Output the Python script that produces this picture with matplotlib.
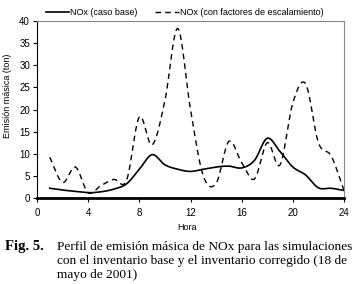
import numpy as np
import matplotlib
matplotlib.use("Agg")
from matplotlib import pyplot as plt

hours = [1, 2, 3, 4, 5, 6, 7, 8, 9, 10, 11, 12, 13, 14, 15, 16, 17, 18, 19, 20, 21, 22, 23, 24]
nox_base = [2.2, 1.8, 1.5, 1.2, 1.4, 2.0, 3.2, 6.5, 9.8, 7.5, 6.5, 6.0, 6.5, 7.0, 7.2, 6.8, 8.5, 13.5, 10.5, 7.0, 5.2, 2.3, 2.2, 1.7]
nox_scaled = [9.2, 3.5, 7.0, 1.2, 2.8, 4.2, 4.0, 18.3, 12.0, 22.0, 38.3, 20.0, 5.0, 3.3, 12.8, 8.0, 4.3, 12.5, 7.5, 21.5, 25.8, 12.5, 9.5, 1.7]
labels = ["NOx (caso base)", "NOx (con factores de escalamiento)"]
xticks = [0, 4, 8, 12, 16, 20, 24]
yticks = [0, 5, 10, 15, 20, 25, 30, 35, 40]
caption = ["Perfil de emisión másica de NOx para las simulaciones",
           "con el inventario base y el inventario corregido (18 de",
           "mayo de 2001)"]


def smooth(x, y, n=20):
    # catmull-rom like Excel's smoothed line
    x = np.asarray(x, float)
    y = np.asarray(y, float)
    px = np.concatenate([[2 * x[0] - x[1]], x, [2 * x[-1] - x[-2]]])
    py = np.concatenate([[2 * y[0] - y[1]], y, [2 * y[-1] - y[-2]]])
    t = np.linspace(0, 1, n, endpoint=False)
    xs, ys = [], []
    for i in range(1, len(px) - 2):
        for p, out in ((px, xs), (py, ys)):
            p0, p1, p2, p3 = p[i - 1], p[i], p[i + 1], p[i + 2]
            out.extend(0.5 * (2 * p1 + (-p0 + p2) * t + (2 * p0 - 5 * p1 + 4 * p2 - p3) * t ** 2
                              + (-p0 + 3 * p1 - 3 * p2 + p3) * t ** 3))
    xs.append(x[-1])
    ys.append(y[-1])
    return xs, ys


plt.rcParams['font.family'] = ['Liberation Sans', 'DejaVu Sans']

fig = plt.figure(figsize=(3.54, 2.84), dpi=100)
ax = fig.add_axes([37 / 354, 1 - 198 / 284, 307 / 354, 177 / 284])

xs, ys = smooth(hours, nox_base)
ax.plot(xs, ys, color="black", lw=1.2, label=labels[0])
xs, ys = smooth(hours, nox_scaled)
ax.plot(xs, ys, color="black", lw=1.0, ls=(0, (4, 3)), label=labels[1])

ax.set_xlim(0, 24)
ax.set_ylim(0, 40)
ax.set_xticks(xticks)
ax.set_yticks(yticks)
ax.tick_params(labelsize=7, length=3, width=0.8, direction="out", pad=2)
ax.tick_params(axis="x", pad=4)
ax.spines["top"].set_color("#888888")
ax.spines["right"].set_color("#888888")
ax.spines["top"].set_linewidth(0.8)
ax.spines["right"].set_linewidth(0.8)
ax.spines["left"].set_linewidth(0.8)
ax.spines["bottom"].set_linewidth(2.0)
ax.set_xlabel("Hora", fontsize=6.5)
ax.set_ylabel("Emisión másica (ton)", fontsize=6.5)
ax.xaxis.set_label_coords(0.489, -0.141)
ax.yaxis.set_label_coords(-0.081, 0.576)

ax.legend(loc="lower left", bbox_to_anchor=(0.015, 1.0), ncol=2, frameon=False,
          fontsize=6.5, handlelength=2.6, columnspacing=2.0, borderpad=0.25,
          handletextpad=0.1, borderaxespad=0.2)

fig.text(5 / 354, 1 - 250 / 284, "Fig. 5.", family="Liberation Serif", weight="bold",
         fontsize=10.5, va="baseline")
for i, line in enumerate(caption):
    fig.text(57 / 354, 1 - (250 + 14 * i) / 284, line, family="Liberation Serif",
             fontsize=9.6, va="baseline")

fig.savefig("out.png", dpi=100)
plt.close()
